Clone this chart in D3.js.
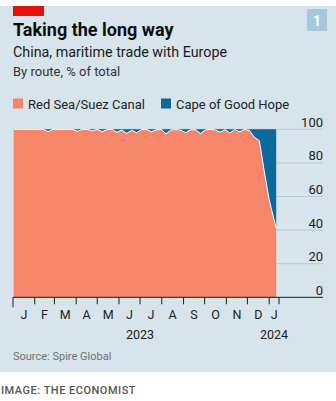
<!DOCTYPE html>
<html>
<head>
<meta charset="utf-8">
<script src="https://cdn.jsdelivr.net/npm/d3@7"></script>
<style>
  body { margin: 0; background: #fff; }
  svg { display: block; font-family: Roboto, "Noto Sans", sans-serif; }
</style>
</head>
<body>
<svg id="chart" width="336" height="401"></svg>
<script>
// weekly observations, share of China-Europe maritime trade by route
const dates = [
  "2023-01-02", "2023-01-09", "2023-01-16", "2023-01-23", "2023-01-30",
  "2023-02-06", "2023-02-13", "2023-02-20", "2023-02-27",
  "2023-03-06", "2023-03-13", "2023-03-20", "2023-03-27",
  "2023-04-03", "2023-04-10", "2023-04-17", "2023-04-24",
  "2023-05-01", "2023-05-08", "2023-05-15", "2023-05-22", "2023-05-29",
  "2023-06-05", "2023-06-12", "2023-06-19", "2023-06-26",
  "2023-07-03", "2023-07-10", "2023-07-17", "2023-07-24", "2023-07-31",
  "2023-08-07", "2023-08-14", "2023-08-21", "2023-08-28",
  "2023-09-04", "2023-09-11", "2023-09-18", "2023-09-25",
  "2023-10-02", "2023-10-09", "2023-10-16", "2023-10-23", "2023-10-30",
  "2023-11-06", "2023-11-13", "2023-11-20", "2023-11-27",
  "2023-12-04", "2023-12-11", "2023-12-18", "2023-12-25",
  "2024-01-01", "2024-01-11"
];
const redSea = [
  100, 100, 100, 100, 100,
  100, 100, 98.6, 100,
  100, 100, 100, 100,
  98.8, 100, 100, 99.0,
  100, 98.6, 99.8, 100, 98.2,
  99.6, 97.5, 99.4, 98.0,
  99.8, 100, 98.5, 99.7, 100,
  97.3, 99.6, 99.8, 99.5,
  98.0, 99.7, 99.8, 97.5,
  99.6, 100, 99.6, 98.3, 99.7,
  97.8, 99.8, 98.5, 100,
  99.2, 95.2, 93.2, 75,
  58, 41
];
const series = ["Red Sea/Suez Canal", "Cape of Good Hope"];
const colors = ["#f5866a", "#0b6a9c"];
const yTicks = [0, 20, 40, 60, 80, 100];
const monthLabels = ["J", "F", "M", "A", "M", "J", "J", "A", "S", "O", "N", "D", "J"];
const years = ["2023", "2024"];

const data = dates.map((d, i) => ({ date: new Date(d), v: redSea[i] }));

const svg = d3.select("#chart");
const W = 336;

// panel
svg.append("rect").attr("x", 0).attr("y", 6).attr("width", W).attr("height", 366).attr("fill", "#d7e4eb");
svg.append("rect").attr("x", 13).attr("y", 6).attr("width", 31).attr("height", 10).attr("fill", "#e3120b");
svg.append("rect").attr("x", 307).attr("y", 9).attr("width", 20).attr("height", 22).attr("fill", "#a9c9db");
svg.append("text").attr("x", 317).attr("y", 25.5).attr("text-anchor", "middle")
  .attr("fill", "#fff").attr("font-weight", 700).attr("font-size", 14).text("1");

// titles
svg.append("text").attr("x", 13).attr("y", 36).attr("font-size", 18).attr("font-weight", 700)
  .attr("fill", "#0d0d0d").text("Taking the long way");
svg.append("text").attr("x", 13).attr("y", 57).attr("font-size", 14.3).attr("fill", "#1a1a1a")
  .text("China, maritime trade with Europe");
svg.append("text").attr("x", 13).attr("y", 76).attr("font-size", 13).attr("fill", "#333")
  .text("By route, % of total");

// legend
const legX = [13, 161];
series.forEach((s, i) => {
  svg.append("rect").attr("x", legX[i]).attr("y", 98.5).attr("width", 10).attr("height", 10).attr("fill", colors[i]);
  svg.append("text").attr("x", legX[i] + 15).attr("y", 108.5).attr("font-size", 13).attr("fill", "#222").text(s);
});

// scales
const x = d3.scaleTime()
  .domain([new Date("2023-01-01"), new Date("2024-01-15")])
  .range([13, 279]);
const y = d3.scaleLinear().domain([0, 100]).range([297.3, 129.3]);

// gridlines
svg.append("g").selectAll("line")
  .data(yTicks.filter(t => t > 0))
  .enter().append("line")
  .attr("x1", 13).attr("x2", 323)
  .attr("y1", d => y(d)).attr("y2", d => y(d))
  .attr("stroke", "#b5cad6").attr("stroke-width", 1);

// areas
const areaRed = d3.area().x(d => x(d.date)).y0(y(0)).y1(d => y(d.v));
const areaCape = d3.area().x(d => x(d.date)).y0(d => y(d.v)).y1(y(100));
svg.append("path").datum(data).attr("d", areaCape).attr("fill", colors[1]);
svg.append("path").datum(data).attr("d", areaRed).attr("fill", colors[0]);
svg.append("path").datum(data)
  .attr("d", d3.line().x(d => x(d.date)).y(d => y(d.v)))
  .attr("fill", "none").attr("stroke", "#fff").attr("stroke-width", 1);

// y labels
svg.append("g").selectAll("text")
  .data(yTicks)
  .enter().append("text")
  .attr("x", 323).attr("y", d => y(d) - 2.5)
  .attr("text-anchor", "end").attr("font-size", 13).attr("fill", "#222")
  .text(d => d);

// x axis
svg.append("line").attr("x1", 13).attr("x2", 323).attr("y1", y(0)).attr("y2", y(0))
  .attr("stroke", "#1a1a1a").attr("stroke-width", 1);
const tickDates = d3.timeMonth.range(new Date(2023, 0, 1), new Date(2024, 0, 2)).concat([new Date("2024-01-15")]);
svg.append("g").selectAll("line")
  .data(tickDates)
  .enter().append("line")
  .attr("x1", d => x(d)).attr("x2", d => x(d))
  .attr("y1", y(0)).attr("y2", (d, i) => i === 0 ? y(0) + 10 : y(0) + 7)
  .attr("stroke", "#1a1a1a").attr("stroke-width", 1);
svg.append("g").selectAll("text")
  .data(monthLabels)
  .enter().append("text")
  .attr("x", (d, i) => (x(tickDates[i]) + x(tickDates[i + 1])) / 2)
  .attr("y", 319).attr("text-anchor", "middle").attr("font-size", 12.5).attr("fill", "#222")
  .text(d => d);
const yearPos = [x(new Date("2023-07-01")), (x(tickDates[12]) + x(tickDates[13])) / 2];
svg.append("g").selectAll("text")
  .data(years)
  .enter().append("text")
  .attr("x", (d, i) => yearPos[i]).attr("y", 339)
  .attr("text-anchor", "middle").attr("font-size", 12.5).attr("fill", "#222")
  .text(d => d);

// footer
svg.append("text").attr("x", 13).attr("y", 360).attr("font-size", 11).attr("fill", "#707070")
  .text("Source: Spire Global");
svg.append("text").attr("x", 1).attr("y", 394).attr("font-size", 11).attr("font-weight", 500)
  .attr("fill", "#555").attr("letter-spacing", 0.5).text("IMAGE: THE ECONOMIST");
</script>
</body>
</html>
